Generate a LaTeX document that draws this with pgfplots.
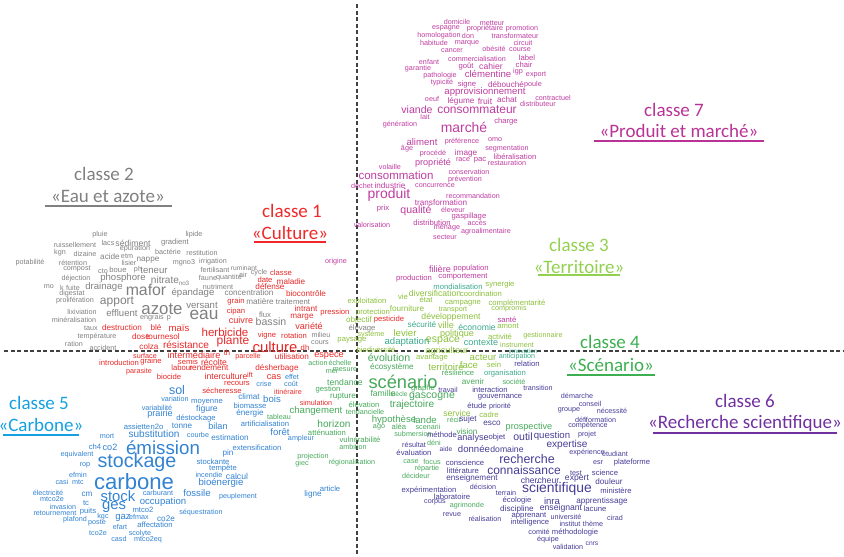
\documentclass[border=0pt]{standalone}
\usepackage{pgfplots}
\usepackage{pgfplotstable}
\pgfplotsset{compat=1.18}
\usepackage{fontspec}
\setmainfont{Liberation Sans}
\newfontfamily\carlito{Carlito}

\definecolor{csept}{RGB}{190,60,160}
\definecolor{cdeux}{RGB}{128,128,128}
\definecolor{cun}{RGB}{232,40,40}
\definecolor{ctrois}{RGB}{140,192,60}
\definecolor{cquatre}{RGB}{70,168,90}
\definecolor{cquatret}{RGB}{60,170,140}
\definecolor{ccinq}{RGB}{50,130,210}
\definecolor{csix}{RGB}{70,60,150}
% label colours
\definecolor{lsept}{RGB}{185,50,150}
\definecolor{lun}{RGB}{240,40,40}
\definecolor{ltrois}{RGB}{146,208,80}
\definecolor{lquatre}{RGB}{60,175,80}
\definecolor{lcinq}{RGB}{20,160,225}
\definecolor{lsix}{RGB}{112,48,160}

% word positions (pixels from top left), font size, word
\pgfplotstableread[col sep=comma]{
x,y,s,w
457,22,7.5,domicile
492,23,7.5,metteur
446,28,7.5,espagne
485,29,7.5,propriétaire
522,29,7.5,promotion
439,36,7.5,homologation
468,36,7.5,don
515,36,7.5,transformateur
434,43,7.5,habitude
467,43,7.5,marque
523,43,7.5,circuit
452,51,7.5,cancer
494,49,7.5,obésité
520,50,7.5,course
429,62,7.5,enfant
477,59,7.5,commercialisation
527,58,8,label
418,69,7.5,garantie
466,66,8,goût
491,66,9,cahier
524,65,8,chair
440,76,7.5,pathologie
488,74,10,clémentine
518,72,7.5,igp
536,75,7.5,export
442,83,7.5,typicité
467,85,8,signe
506,85,8.5,débouché
533,85,7.5,poule
485,92,10,approvisionnement
432,99,7.5,oeuf
461,101,8.5,légume
485,101,9,fruit
507,100,8.5,achat
553,98,7.5,contractuel
538,104,7.5,distributeur
417,110,11,viande
477,110,12.5,consommateur
425,117,7.5,lait
400,125,7.5,génération
464,127,14.5,marché
506,122,8,charge
422,142,10,aliment
462,142,7.5,préférence
495,140,7.5,omo
407,149,7.5,âge
507,149,7.5,segmentation
433,154,7.5,procédé
466,153,8.5,image
515,157,8,libéralisation
463,160,7.5,race
480,160,8,pac
507,163,7.5,restauration
390,167,7.5,volaille
433,163,9.5,propriété
396,175,12,consommation
469,172,7.5,conservation
465,180,7.5,prévention
362,186,7.5,déchet
390,186,8.5,industrie
435,186,7.5,concurrence
389,195,14.5,produit
473,196,7.5,recommandation
441,203,8.5,transformation
383,209,8,prix
416,211,11,qualité
453,210,7.5,éleveur
469,217,8,gaspillage
372,225,7.5,valorisation
432,223,8,distribution
477,223,7.5,accès
447,228,7.5,ménage
486,232,7.5,agroalimentaire
445,237,7.5,secteur
440,269,9.5,filière
471,269,8,population
463,277,8,comportement
414,279,8,production
507,320,8,santé
336,262,7.5,origine
}\tsept

\pgfplotstableread[col sep=comma]{
x,y,s,w
100,235,7.5,pluie
194,235,7.5,lipide
75,245,7.5,ruissellement
108,243,7.5,lacs
133,243,9,sédiment
175,243,8,gradient
135,249,7.5,épuration
60,253,7.5,kgn
85,254,7.5,dizaine
110,257,8.5,acide
127,256,7.5,etm
168,252,7.5,bactérie
202,253,7.5,restitution
30,263,7.5,potabilité
73,263,7.5,rétention
129,263,7.5,lisier
148,260,8.5,nappe
184,263,7.5,mgno3
213,262,7.5,irrigation
77,269,7.5,compost
103,271,7.5,cto
118,270,8,boue
138,270,7.5,ph
154,270,10,teneur
215,270,7.5,fertilisant
244,268,7,ruminant
76,279,7.5,déjection
123,278,10,phosphore
165,280,10.5,nitrate
184,283,6.5,no3
208,278,7.5,faune
229,278,7.5,quantité
243,275,7.5,air
259,273,7.5,cycle
49,287,7.5,mo
62,288,7.5,k
73,288,7.5,fuite
104,287,10,drainage
146,290,16.5,mafor
193,293,10,épandage
218,287,7.5,nutriment
72,294,7.5,digestat
75,301,7.5,prolifération
117,302,12.5,apport
202,305,10,versant
249,293,8.5,concentration
82,312,7.5,lixiviation
122,313,10,effluent
162,309,17.5,azote
204,315,18,eau
152,318,7.5,engrais
169,318,7.5,p
74,320,7.5,minéralisation
91,328,7.5,taux
97,337,7.5,température
74,344,7.5,ration
103,348,7.5,accident
265,315,8,flux
271,322,11,bassin
260,302,8.5,matière
293,302,8,traitement
321,335,7.5,milieu
320,343,7.5,cours
362,328,8,élevage
}\tdeux

\pgfplotstableread[col sep=comma]{
x,y,s,w
122,328,8.5,destruction
156,328,8.5,blé
179,328,10,maïs
141,337,8.5,dose
163,337,8.5,tournesol
149,347,8.5,colza
186,345,10.5,résistance
225,332,12,herbicide
233,341,12.5,plante
275,347,15.5,culture
305,348,8,dh
281,273,8,classe
265,280,8,date
291,282,8.5,maladie
270,287,8.5,défense
306,294,8.5,biocontrôle
236,302,8,grain
236,312,8,cipan
306,309,8.5,intrant
302,317,8.5,marge
335,313,8,pression
241,320,9.5,cuivre
309,326,9.5,variété
267,336,8,vigne
294,336,8,rotation
194,355,9.5,intermédiaire
227,353,8,th
248,357,7.5,parcelle
292,357,8.5,utilisation
329,355,9.5,espèce
188,362,8,semis
214,362,9,récolte
182,368,8,labour
209,368,8.5,rendement
277,368,8.5,désherbage
169,377,8,biocide
226,376,9,interculture
250,375,7.5,ift
274,377,9.5,cas
237,383,8,recours
288,392,7.5,itinéraire
222,391,8,sécheresse
316,403,7.5,simulation
145,356,7.5,surface
119,363,8,introduction
151,362,8,graine
139,372,7.5,parasite
389,320,8,pesticide
}\tun

\pgfplotstableread[col sep=comma]{
x,y,s,w
500,285,8,synergie
403,297,8,vie
435,293,9,diversification
481,294,8,coordination
426,300,8,état
367,302,8,exploitation
463,303,8,campagne
517,303,8,complémentarité
509,309,7.5,compromis
373,313,8,protection
407,309,8.5,fourniture
453,310,7.5,transport
359,320,8.5,objectif
451,317,9,développement
446,325,9.5,ville
508,326,8,amont
405,333,10,levier
371,335,7.5,système
457,334,9.5,politique
500,337,8,activité
543,336,7.5,gestionnaire
352,340,8,paysage
443,341,11,espace
517,345,7.5,instrument
376,350,8,biodiversité
447,351,9.5,agriculteur
432,358,8,avantage
483,357,10,acteur
494,365,8,sein
446,367,10,territoire
469,365,10,face
457,413,9,service
489,415,8,cadre
}\ttrois

\pgfplotstableread[col sep=comma]{
x,y,s,w
458,287,8,mondialisation
422,325,8.5,sécurité
477,327,9,économie
407,342,10,adaptation
481,343,9.5,contexte
517,357,7.5,anticipation
523,351,6.5,innovation
505,374,8,organisation
}\tquatret

\pgfplotstableread[col sep=comma]{
x,y,s,w
389,358,11,évolution
392,367,8.5,écosystème
340,363,7.5,échelle
345,370,7.5,mesure
332,372,7.5,mer
318,363,7.5,action
458,373,8,résilience
403,382,19,scénario
345,382,9,tendance
473,382,8.5,avenir
514,382,7.5,société
423,389,8,graphe
328,390,8,gestion
343,397,8.5,rupture
383,393,9,famille
399,394,7,siècle
432,397,11,gascogne
364,405,8,élévation
412,405,10.5,trajectoire
365,412,7.5,tendancielle
394,420,10,hypothèse
425,420,10,lande
454,420,7.5,récit
529,427,9.5,prospective
379,427,7.5,ago
399,427,8,aléa
428,427,7.5,scenarii
413,434,7.5,submersion
467,432,8.5,vision
316,411,10,changement
279,417,7.5,tableau
334,424,10.5,horizon
327,433,8,atténuation
360,440,8,vulnérabilité
353,447,7.5,ambition
313,457,7.5,projection
302,464,7.5,giec
352,463,7.5,régionalisation
434,443,7.5,déni
411,462,7.5,case
432,462,7.5,focus
427,469,7.5,répartie
416,476,7.5,décideur
467,506,7.5,agrimonde
}\tquatre

\pgfplotstableread[col sep=comma]{
x,y,s,w
527,364,8,relation
448,390,7.5,travail
490,390,8,interaction
500,397,8,gouvernance
477,406,8,étude
500,407,7.5,priorité
468,419,8.5,sujet
492,423,8.5,esco
442,435,8,méthode
473,438,9.5,analyse
497,438,8,objet
523,437,11,outil
552,436,10,question
587,435,7.5,projet
588,426,7.5,compétence
567,445,10.5,expertise
414,445,7.5,résultat
446,449,7,aide
474,449,10,donnée
507,449,9,domaine
414,453,8,évaluation
527,459,13,recherche
587,453,7.5,expérience
615,454,7.5,étudiant
465,463,8,conscience
598,463,7.5,esr
632,463,8,plateforme
463,471,8,littérature
524,470,12.5,connaissance
576,473,7.5,test
605,473,8,science
472,478,8.5,enseignement
540,480,9,chercheur
577,479,9,expert
609,482,8.5,douleur
429,490,8,expérimentation
483,487,7.5,décision
557,489,14.5,scientifique
616,491,8,ministère
506,493,7.5,terrain
452,497,8,laboratoire
435,502,7.5,corpus
517,500,8,écologie
552,501,10,inra
602,501,8.5,apprentissage
517,509,8.5,discipline
561,508,9,enseignant
595,509,8,lacune
452,515,7.5,revue
529,516,8,apprenant
566,517,7.5,université
615,518,7.5,cirad
485,519,7.5,réalisation
530,523,8,intelligence
570,524,7.5,institut
593,524,7.5,thème
539,532,7.5,comité
575,532,8,méthodologie
548,540,7.5,équipe
568,547,7.5,validation
592,544,7,cnrs
538,388,7.5,transition
577,396,7.5,démarche
590,404,7.5,conseil
569,410,7.5,groupe
612,411,7.5,nécessité
581,420,7.5,défi
601,420,7.5,formation
}\tsix

\pgfplotstableread[col sep=comma]{
x,y,s,w
177,390,13,sol
175,399,7.5,variation
207,402,8,moyenne
157,408,7.5,variabilité
160,414,9.5,prairie
207,409,9,figure
196,418,8,déstockage
249,397,8.5,climat
272,399,10,bois
292,377,7.5,effet
264,384,7.5,crise
291,384,7.5,coût
250,406,8,biomasse
250,413,8.5,énergie
137,427,8,assiette
157,427,8,n2o
182,426,8.5,tonne
154,434,10.5,substitution
218,426,9.5,bilan
265,424,8,artificialisation
198,435,7.5,courbe
230,438,8.5,estimation
280,432,10,forêt
301,439,7.5,ampleur
163,448,19.5,émission
257,448,8,extensification
228,453,8.5,pin
107,436,7.5,mort
95,447,8,ch4
110,447,9.5,co2
77,455,7.5,equivalent
137,462,20.5,stockage
85,465,7.5,rop
78,475,7.5,efmin
62,482,7.5,casi
78,482,7.5,mtc
134,482,23,carbone
48,493,7.5,électricité
87,494,8.5,cm
118,496,15.5,stock
158,493,7.5,carburant
52,499,7.5,mtco2e
197,493,10,fossile
86,503,8,tc
114,507,15.5,ges
163,502,10,occupation
63,507,7.5,invasion
55,513,7.5,retournement
88,512,8,puits
143,510,8,mtco2
201,513,7.5,séquestration
75,520,7.5,plafond
103,517,7.5,kgc
123,518,10,gaz
139,517,7.5,efmax
166,519,8.5,co2e
97,523,7.5,poste
120,527,7.5,efart
155,525,8,affectation
98,533,7.5,tco2e
119,539,7.5,casd
140,534,7.5,scolyte
148,540,7.5,mtco2eq
213,462,8,stockante
223,468,8,tempête
209,475,7.5,incendie
237,476,9,calcul
221,483,10,bioénergie
238,497,7.5,peuplement
313,494,8.5,ligne
330,489,8,article
}\tcinq

\pgfplotsset{
  words/.style={draw=none, mark=none, point meta=explicit symbolic,
    nodes near coords,
    visualization depends on={0.96*\thisrow{s}\as\fs},
    nodes near coords style={font=\fontsize{\fs}{\fs}\selectfont,
      anchor=center, inner sep=0pt, text=#1}},
}

\begin{document}
\begin{tikzpicture}
\begin{axis}[width=844pt, height=557pt, scale only axis,
  xmin=0, xmax=844, ymin=0, ymax=557, y dir=reverse,
  hide axis, clip=false]

  % axes of the factor map
  \addplot[black!75, line width=1.1pt, dash pattern=on 4pt off 2.5pt]
    coordinates {(357,4) (357,557)};
  \addplot[black!75, line width=1.1pt, dash pattern=on 4pt off 2.5pt]
    coordinates {(4,351) (843,351)};

  \addplot[words=csept] table[x=x, y=y, meta=w] {\tsept};
  \addplot[words=cdeux] table[x=x, y=y, meta=w] {\tdeux};
  \addplot[words=cun] table[x=x, y=y, meta=w] {\tun};
  \addplot[words=ctrois] table[x=x, y=y, meta=w] {\ttrois};
  \addplot[words=cquatret] table[x=x, y=y, meta=w] {\tquatret};
  \addplot[words=cquatre] table[x=x, y=y, meta=w] {\tquatre};
  \addplot[words=csix] table[x=x, y=y, meta=w] {\tsix};
  \addplot[words=ccinq] table[x=x, y=y, meta=w] {\tcinq};

  % class titles
  \begin{scope}[every node/.style={font=\carlito\fontsize{19}{21}\selectfont, inner sep=0pt, anchor=center}]
    \node[text=cdeux] at (axis cs:104,174) {classe 2};
    \node[text=cdeux] at (axis cs:108,196) {«Eau et azote»};
    \draw[cdeux, line width=1.3pt] (axis cs:45,206) -- (axis cs:172,206);
    \node[text=lun] at (axis cs:292,211) {classe 1};
    \node[text=lun] at (axis cs:290,233) {«Culture»};
    \draw[lun, line width=1.3pt] (axis cs:254,242) -- (axis cs:326,242);
    \node[text=lsept] at (axis cs:674,110) {classe 7};
    \node[text=lsept] at (axis cs:679,131) {«Produit et marché»};
    \draw[lsept, line width=1.3pt] (axis cs:594,141) -- (axis cs:764,141);
    \node[text=ltrois] at (axis cs:579,245) {classe 3};
    \node[text=ltrois] at (axis cs:579,267) {«Territoire»};
    \draw[ltrois, line width=1.3pt] (axis cs:538,275) -- (axis cs:620,275);
    \node[text=lquatre] at (axis cs:610,342) {classe 4};
    \node[text=lquatre] at (axis cs:611,365) {«Scénario»};
    \draw[lquatre, line width=1.3pt] (axis cs:567,375) -- (axis cs:655,375);
    \node[text=lcinq] at (axis cs:39,403) {classe 5};
    \node[text=lcinq] at (axis cs:41,425) {«Carbone»};
    \draw[lcinq, line width=1.3pt] (axis cs:3,435) -- (axis cs:79,435);
    \node[text=lsix] at (axis cs:745,401) {classe 6};
    \node[text=lsix] at (axis cs:745,423) {«Recherche scientifique»};
    \draw[lsix, line width=1.3pt] (axis cs:653,433) -- (axis cs:837,433);
  \end{scope}
\end{axis}
\pgfresetboundingbox
\useasboundingbox (current axis.south west) rectangle (current axis.north east);
\end{tikzpicture}
\end{document}
